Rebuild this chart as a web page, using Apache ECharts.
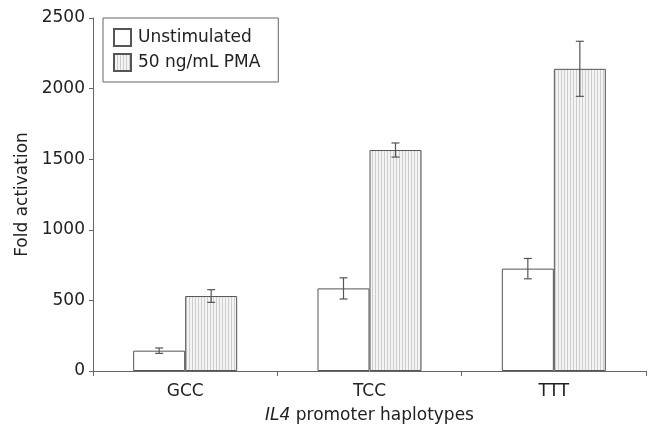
<!DOCTYPE html>
<html>
<head>
<meta charset="utf-8">
<script src="https://cdn.jsdelivr.net/npm/echarts@6/dist/echarts.min.js"></script>
<style>
  html, body { margin: 0; padding: 0; background: #fff; }
  #main { width: 650px; height: 429px; }
</style>
</head>
<body>
<div id="main"></div>
<script>
// data
const haplotypes = ['GCC', 'TCC', 'TTT'];
const unstimulated = [144, 585, 725];
const unstimulatedErr = [19, 75, 72];
const pma = [531, 1565, 2140];
const pmaErr = [45, 50, 195];
const yTicks = [0, 500, 1000, 1500, 2000, 2500];

const FONT = 'DejaVu Sans';
const BAR_W = 52;

// vertical hatch pattern for the PMA bars
const makeHatch = () => {
    const c = document.createElement('canvas');
    c.width = 3;
    c.height = 4;
    const ctx = c.getContext('2d');
    ctx.fillStyle = '#f4f4f4';
    ctx.fillRect(0, 0, 3, 4);
    ctx.fillStyle = '#cdcdcd';
    ctx.fillRect(0, 0, 1, 4);
    return c;
}

// error bar renderer, shifted onto the left or right bar of the group
const errorBars = (values, errs, shift) => (params, api) => {
    const i = api.value(0);
    const hi = api.coord([i, values[i] + errs[i]]);
    const lo = api.coord([i, values[i] - errs[i]]);
    const x = hi[0] + shift;
    const cap = 4;
    const style = { stroke: '#555', lineWidth: 1.2 };
    return {
        type: 'group',
        children: [
            { type: 'line', shape: { x1: x, y1: hi[1], x2: x, y2: lo[1] }, style },
            { type: 'line', shape: { x1: x - cap, y1: hi[1], x2: x + cap, y2: hi[1] }, style },
            { type: 'line', shape: { x1: x - cap, y1: lo[1], x2: x + cap, y2: lo[1] }, style }
        ]
    };
}

const chart = echarts.init(document.getElementById('main'), null, { renderer: 'canvas' });

const option = {
    animation: false,
    backgroundColor: '#fff',
    textStyle: { fontFamily: FONT },
    grid: { left: 93, right: 4, top: 18, bottom: 58 },
    legend: {
        orient: 'vertical',
        left: 103,
        top: 18,
        padding: [10, 18, 10, 10],
        itemGap: 6,
        itemWidth: 17,
        itemHeight: 17,
        icon: 'rect',
        borderColor: '#666',
        borderWidth: 1,
        borderRadius: 0,
        textStyle: { fontFamily: FONT, fontSize: 17, color: '#222', padding: [0, 0, 0, 2] },
        data: ['Unstimulated', '50 ng/mL PMA']
    },
    xAxis: {
        type: 'category',
        data: haplotypes,
        boundaryGap: true,
        axisLine: { lineStyle: { color: '#666', width: 1 } },
        axisTick: { show: true, length: 5, lineStyle: { color: '#666' } },
        axisLabel: { fontFamily: FONT, fontSize: 17, color: '#222', margin: 12 },
        name: '{i|IL4} promoter haplotypes',
        nameLocation: 'middle',
        nameGap: 36,
        nameTextStyle: {
            fontFamily: FONT, fontSize: 17, color: '#222',
            rich: { i: { fontFamily: FONT, fontSize: 17, fontStyle: 'italic', color: '#222' } }
        }
    },
    yAxis: {
        type: 'value',
        min: 0,
        max: 2500,
        interval: 500,
        splitLine: { show: false },
        axisLine: { show: true, lineStyle: { color: '#666', width: 1 } },
        axisTick: { show: true, length: 4, lineStyle: { color: '#666' } },
        axisLabel: {
            fontFamily: FONT, fontSize: 17, color: '#222', margin: 8,
            formatter: v => yTicks.includes(v) ? String(v) : ''
        },
        name: 'Fold activation',
        nameLocation: 'middle',
        nameGap: 62,
        nameTextStyle: { fontFamily: FONT, fontSize: 17, color: '#222' }
    },
    series: [
        {
            name: 'Unstimulated',
            type: 'bar',
            data: unstimulated,
            barWidth: BAR_W,
            barGap: '0%',
            itemStyle: { color: '#fff', borderColor: '#555', borderWidth: 1 }
        },
        {
            name: '50 ng/mL PMA',
            type: 'bar',
            data: pma,
            barWidth: BAR_W,
            barGap: '0%',
            itemStyle: { color: { image: makeHatch(), repeat: 'repeat' }, borderColor: '#555', borderWidth: 1 }
        },
        {
            type: 'custom',
            data: haplotypes.map((h, i) => [i]),
            renderItem: errorBars(unstimulated, unstimulatedErr, -BAR_W / 2),
            z: 5
        },
        {
            type: 'custom',
            data: haplotypes.map((h, i) => [i]),
            renderItem: errorBars(pma, pmaErr, BAR_W / 2),
            z: 5
        }
    ]
};

chart.setOption(option);
</script>
</body>
</html>
